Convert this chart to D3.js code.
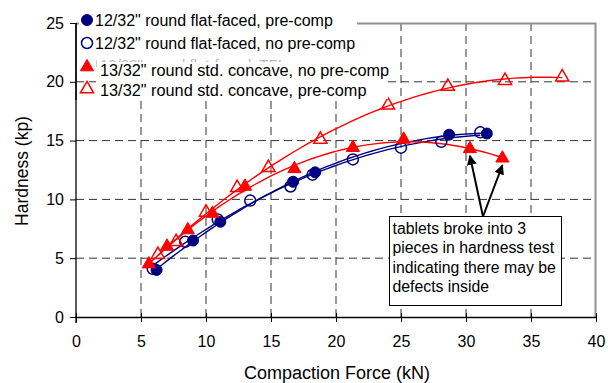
<!DOCTYPE html>
<html>
<head>
<meta charset="utf-8">
<script src="https://cdn.jsdelivr.net/npm/d3@7"></script>
<style>
  body { margin: 0; background: #fff; }
  svg { font-family: 'Liberation Sans', Arial, sans-serif; }
</style>
</head>
<body>
<div class="chart"></div>
<script>
// [compaction force kN, hardness kp]
const flatPreComp = [[6.2, 4.0], [9.0, 6.5], [11.1, 8.1], [16.7, 11.5], [18.4, 12.3], [28.7, 15.5], [31.6, 15.6]];
const flatNoPreComp = [[5.9, 4.1], [8.4, 6.4], [10.9, 8.3], [13.4, 9.9], [16.5, 11.1], [18.2, 12.1], [21.3, 13.4], [25.0, 14.4], [28.1, 14.9], [31.1, 15.7]];
const concaveNoPreComp = [[5.6, 4.5], [7.0, 6.0], [8.6, 7.4], [10.5, 8.8], [13.0, 11.1], [16.8, 12.6], [21.3, 14.4], [25.2, 15.1], [30.3, 14.3], [32.8, 13.5]];
const concavePreComp = [[6.3, 5.3], [7.7, 6.4], [10.0, 8.9], [12.4, 11.0], [14.8, 12.7], [18.8, 15.1], [24.0, 18.0], [28.6, 19.6], [33.0, 20.1], [37.4, 20.4]];

const xTicks = [0, 5, 10, 15, 20, 25, 30, 35, 40];
const yTicks = [0, 5, 10, 15, 20, 25];
const legendLabels = [
  '12/32" round flat-faced, pre-comp',
  '12/32" round flat-faced, no pre-comp',
  '13/32" round std. concave, no pre-comp',
  '13/32" round std. concave, pre-comp',
];
const noteLines = ['tablets broke into 3', 'pieces in hardness test', 'indicating there may be', 'defects inside'];
const notePoints = [[30.3, 14.3], [32.8, 13.5]];

const navy = '#000080';
const red = '#ff0000';

const dimensions = {
  width: 608,
  height: 383,
  margin: { top: 23, right: 12, bottom: 66, left: 76 },
};
dimensions.boundedWidth = dimensions.width - dimensions.margin.left - dimensions.margin.right;
dimensions.boundedHeight = dimensions.height - dimensions.margin.top - dimensions.margin.bottom;

const svg = d3.select('.chart')
  .append('svg')
  .attr('width', dimensions.width)
  .attr('height', dimensions.height);

const bounds = svg.append('g')
  .attr('transform', `translate(${dimensions.margin.left},${dimensions.margin.top})`);

const xScale = d3.scaleLinear().domain([0, 40]).range([0, dimensions.boundedWidth]);
const yScale = d3.scaleLinear().domain([0, 25]).range([dimensions.boundedHeight, 0]);

// grid
bounds.append('g')
  .selectAll('line')
  .data(yTicks.slice(1, -1))
  .join('line')
  .attr('x1', 0)
  .attr('x2', dimensions.boundedWidth)
  .attr('y1', (d) => yScale(d))
  .attr('y2', (d) => yScale(d))
  .attr('stroke', '#333')
  .attr('stroke-dasharray', '8,5');

bounds.append('g')
  .selectAll('line')
  .data(xTicks.slice(1, -1))
  .join('line')
  .attr('x1', (d) => xScale(d))
  .attr('x2', (d) => xScale(d))
  .attr('y1', 0)
  .attr('y2', dimensions.boundedHeight)
  .attr('stroke', '#333')
  .attr('stroke-dasharray', '8,5');

// top / right frame
bounds.append('path')
  .attr('d', `M0,0.5H${dimensions.boundedWidth - 0.5}V${dimensions.boundedHeight}`)
  .attr('fill', 'none')
  .attr('stroke', '#909090')
  .attr('stroke-width', 2);

// quadratic trendline, like the spreadsheet one
function quadFit(pts) {
  let s = [0, 0, 0, 0, 0], t = [0, 0, 0];
  pts.forEach(([x, y]) => {
    for (let k = 0; k < 5; k++) s[k] += x ** k;
    for (let k = 0; k < 3; k++) t[k] += y * x ** k;
  });
  const m = [[s[0], s[1], s[2], t[0]], [s[1], s[2], s[3], t[1]], [s[2], s[3], s[4], t[2]]];
  for (let i = 0; i < 3; i++) {
    for (let j = i + 1; j < 3; j++) {
      const f = m[j][i] / m[i][i];
      for (let k = i; k < 4; k++) m[j][k] -= f * m[i][k];
    }
  }
  const c = [0, 0, 0];
  for (let i = 2; i >= 0; i--) {
    let v = m[i][3];
    for (let k = i + 1; k < 3; k++) v -= m[i][k] * c[k];
    c[i] = v / m[i][i];
  }
  const [x0, x1] = d3.extent(pts, (d) => d[0]);
  return d3.range(0, 61).map((i) => {
    const x = x0 + ((x1 - x0) * i) / 60;
    return [x, c[0] + c[1] * x + c[2] * x * x];
  });
}

const lineGenerator = d3.line()
  .x((d) => xScale(d[0]))
  .y((d) => yScale(d[1]));

const series = [
  { data: flatPreComp, color: navy, shape: 'circle', filled: true },
  { data: flatNoPreComp, color: navy, shape: 'circle', filled: false },
  { data: concaveNoPreComp, color: red, shape: 'triangle', filled: true },
  { data: concavePreComp, color: red, shape: 'triangle', filled: false },
];

series.forEach((s) => {
  bounds.append('path')
    .attr('d', lineGenerator(quadFit(s.data)))
    .attr('fill', 'none')
    .attr('stroke', s.color)
    .attr('stroke-width', 1.4);
});

const circleSym = d3.symbol().type(d3.symbolCircle).size(95);
const triSym = d3.symbol().type(d3.symbolTriangle).size(75);

function drawMarker(g, s) {
  g.append('path')
    .attr('d', s.shape === 'circle' ? circleSym() : triSym())
    .attr('fill', s.filled ? s.color : 'none')
    .attr('stroke', s.color)
    .attr('stroke-width', s.filled ? 1 : 1.5);
}

series.forEach((s) => {
  bounds.append('g')
    .selectAll('g')
    .data(s.data)
    .join('g')
    .attr('transform', (d) => `translate(${xScale(d[0])},${yScale(d[1])})`)
    .each(function () { drawMarker(d3.select(this), s); });
});

// axes
const xAxisGenerator = d3.axisBottom(xScale).tickValues(xTicks).tickSize(5).tickSizeOuter(0).tickPadding(14);
const xAxis = bounds.append('g')
  .attr('transform', `translate(0,${dimensions.boundedHeight})`)
  .call(xAxisGenerator);
xAxis.selectAll('.tick line').attr('y1', -4);

const yAxisGenerator = d3.axisLeft(yScale).tickValues(yTicks).tickSize(6).tickSizeOuter(0).tickPadding(6);
const yAxis = bounds.append('g').call(yAxisGenerator);

[xAxis, yAxis].forEach((a) => {
  a.select('.domain').attr('stroke', '#000').attr('stroke-width', 1.3);
  a.selectAll('.tick line').attr('stroke', '#000');
  a.selectAll('.tick text')
    .attr('fill', '#000')
    .style('font-size', '16px')
    .style('font-family', "'Liberation Sans', Arial, sans-serif");
});
yAxis.select('.domain').attr('d', `M0,0V${dimensions.boundedHeight + 6}`);

// axis titles
svg.append('text')
  .attr('x', 337)
  .attr('y', 379)
  .attr('text-anchor', 'middle')
  .style('font-size', '18px')
  .text('Compaction Force (kN)');

svg.append('text')
  .attr('transform', `translate(28,171) rotate(-90)`)
  .attr('text-anchor', 'middle')
  .style('font-size', '17.5px')
  .text('Hardness (kp)');

// legends (two overlapping boxes, the lower one hides a third row)
const legend = svg.append('g');
legend.append('rect')
  .attr('x', 79).attr('y', 8).attr('width', 278).attr('height', 58)
  .attr('fill', '#fff');
const clip = svg.append('clipPath').attr('id', 'hidden-row');
clip.append('rect').attr('x', 96).attr('y', 57).attr('width', 260).attr('height', 5);
legend.append('text')
  .attr('x', 100).attr('y', 70)
  .attr('fill', '#b8b8b8')
  .attr('clip-path', 'url(#hidden-row)')
  .style('font-size', '15px')
  .text('12/32" round flat-faced, TFI');
legend.append('rect')
  .attr('x', 96).attr('y', 62).attr('width', 292).attr('height', 37)
  .attr('fill', '#fff');
legend.append('line')
  .attr('x1', 96.5).attr('x2', 96.5).attr('y1', 60).attr('y2', 67)
  .attr('stroke', '#ccc');

const legendRows = [
  { y: 20, tx: 95, ty: 26, size: 16 },
  { y: 43, tx: 95, ty: 49, size: 16 },
  { y: 67, tx: 100, ty: 76, size: 16.3 },
  { y: 89, tx: 100, ty: 95.5, size: 16.3 },
];
legendRows.forEach((r, i) => {
  const g = legend.append('g').attr('transform', `translate(87,${r.y})`);
  drawMarker(g, series[i]);
  legend.append('text')
    .attr('x', r.tx).attr('y', r.ty)
    .style('font-size', `${r.size}px`)
    .text(legendLabels[i]);
});
// y axis shows through the legend
svg.append('line')
  .attr('x1', dimensions.margin.left).attr('x2', dimensions.margin.left)
  .attr('y1', dimensions.margin.top).attr('y2', 100)
  .attr('stroke', '#000').attr('stroke-width', 1.3);

// annotation
const note = { x: 389.5, y: 216.5, w: 172, h: 89 };
const noteG = svg.append('g');
noteG.append('rect')
  .attr('x', note.x).attr('y', note.y).attr('width', note.w).attr('height', note.h)
  .attr('fill', '#fff').attr('stroke', '#000');
noteG.selectAll('text')
  .data(noteLines)
  .join('text')
  .attr('x', note.x + 3)
  .attr('y', (d, i) => note.y + 17 + i * 19.5)
  .style('font-size', '15.8px')
  .text((d) => d);

svg.append('defs').append('marker')
  .attr('id', 'head')
  .attr('viewBox', '0 0 10 10')
  .attr('refX', 9).attr('refY', 5)
  .attr('markerWidth', 5).attr('markerHeight', 5)
  .attr('orient', 'auto')
  .append('path').attr('d', 'M0,0L10,5L0,10z').attr('fill', '#000');

const arrowStart = [483, note.y];
notePoints.forEach((p) => {
  const tx = dimensions.margin.left + xScale(p[0]);
  const ty = dimensions.margin.top + yScale(p[1]) + 7;
  svg.append('line')
    .attr('x1', arrowStart[0]).attr('y1', arrowStart[1])
    .attr('x2', tx).attr('y2', ty)
    .attr('stroke', '#000').attr('stroke-width', 2)
    .attr('marker-end', 'url(#head)');
});
</script>
</body>
</html>
